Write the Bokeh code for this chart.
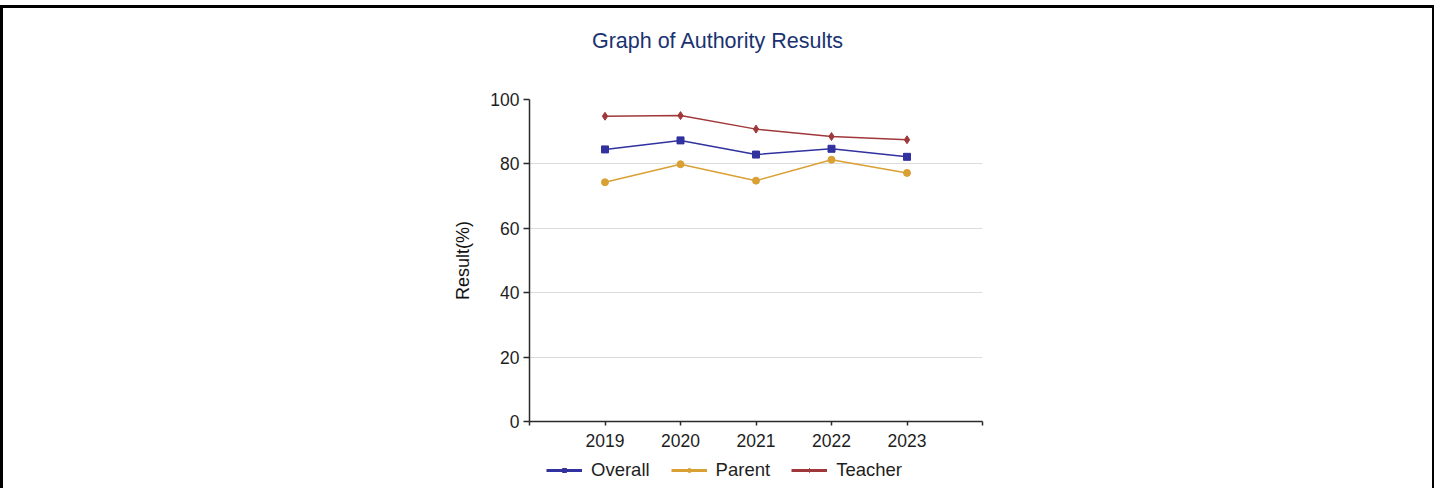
from bokeh.plotting import figure
from bokeh.layouts import column
from bokeh.models import (Range1d, FixedTicker, Legend, LegendItem, ColumnDataSource, Label)
from bokeh.embed import file_html
from bokeh.resources import INLINE

# ---- data ----
years = [2019, 2020, 2021, 2022, 2023]
year_labels = ["2019", "2020", "2021", "2022", "2023"]
overall = [84.5, 87.3, 82.9, 84.7, 82.2]
parent = [74.3, 79.9, 74.8, 81.3, 77.2]
teacher = [94.8, 95.0, 90.8, 88.5, 87.5]
series_names = ["Overall", "Parent", "Teacher"]
y_ticks = [0, 20, 40, 60, 80, 100]
title_text = "Graph of Authority Results"
y_label = "Result(%)"

# ---- style ----
FONT = "Liberation Sans"
colors = ["#31319f", "#d9a034", "#a0383b"]
markers = ["square", "circle", "diamond"]
marker_sizes = [7, 7, 8]
W = 1429
NAN = float("nan")


def strip(h):
    f = figure(width=W, height=h, output_backend="svg", toolbar_location=None,
               x_range=Range1d(0, 1), y_range=Range1d(0, 1),
               x_axis_location=None, y_axis_location=None, min_border=0,
               background_fill_color="white", border_fill_color="white")
    f.outline_line_color = None
    f.grid.visible = False
    return f


# ---- title strip ----
pt = strip(60)
pt.add_layout(Label(x=188.5, y=28, x_units="screen", y_units="screen", text=title_text,
                    text_align="center", text_baseline="alphabetic", text_font=FONT,
                    text_font_size="21.5px", text_color="#1a3370"))

# ---- main chart ----
p = figure(width=W, height=390, output_backend="svg", toolbar_location=None,
           x_range=Range1d(years[0] - 1, years[-1] + 1), y_range=Range1d(y_ticks[0], y_ticks[-1]),
           min_border_left=526, min_border_right=450, min_border_top=31, min_border_bottom=37,
           background_fill_color="white", border_fill_color="white")
p.outline_line_color = None
p.xgrid.grid_line_color = None
p.ygrid.grid_line_color = "#dcdcdc"
p.ygrid.grid_line_width = 1

p.xaxis.ticker = FixedTicker(ticks=[years[0] - 1] + years + [years[-1] + 1])
ov = {years[0] - 1: "", years[-1] + 1: ""}
ov.update({y: l for y, l in zip(years, year_labels)})
p.xaxis.major_label_overrides = ov
p.xaxis.major_tick_in = 0
p.xaxis.major_tick_out = 4
p.xaxis.minor_tick_line_color = None
p.xaxis.major_label_standoff = 8

p.yaxis.ticker = FixedTicker(ticks=y_ticks)
p.yaxis.major_tick_in = 0
p.yaxis.major_tick_out = 6
p.yaxis.minor_tick_line_color = None
p.yaxis.major_label_standoff = 4
p.yaxis.axis_label = y_label
p.yaxis.axis_label_standoff = 14
p.yaxis.axis_label_text_font = FONT
p.yaxis.axis_label_text_font_size = "18px"
p.yaxis.axis_label_text_font_style = "normal"
p.yaxis.axis_label_text_color = "#111111"

for ax in (p.xaxis, p.yaxis):
    ax.axis_line_color = "#2a2a2a"
    ax.axis_line_width = 1.5
    ax.major_tick_line_color = "#2a2a2a"
    ax.major_tick_line_width = 1.5
    ax.major_label_text_font = FONT
    ax.major_label_text_font_size = "17.5px"
    ax.major_label_text_color = "#1e1e1e"

for name, vals, col, mk, ms in zip(series_names, [overall, parent, teacher], colors, markers, marker_sizes):
    src = ColumnDataSource(dict(x=years, y=vals))
    p.line("x", "y", source=src, line_color=col, line_width=1.5)
    p.scatter("x", "y", source=src, marker=mk, size=ms, fill_color=col, line_color=col)

# ---- legend strip (proxy renderers hold no drawable point) ----
pl = strip(30)
items = []
for name, col, mk in zip(series_names, colors, markers):
    lr = pl.line(x=[NAN], y=[NAN], line_color=col, line_width=3)
    ls = pl.scatter(x=[NAN], y=[NAN], marker=mk, size=4, fill_color=col, line_color=col)
    items.append(LegendItem(label=name, renderers=[lr, ls]))
legend = Legend(items=items, location=(17, 7), orientation="horizontal",
                glyph_width=36, glyph_height=10, label_height=10, label_standoff=9,
                spacing=21, padding=0, margin=0, border_line_color=None,
                background_fill_alpha=0, label_text_font=FONT,
                label_text_font_size="18.5px", label_text_color="#1e1e1e")
pl.add_layout(legend, "center")

layout = column(pt, p, pl, spacing=0,
                styles={"margin-top": "5px",
                        "border-top": "3px solid #000", "border-left": "3px solid #000",
                        "border-right": "2px solid #000"})

open("out.html", "w").write(file_html(layout, INLINE))
